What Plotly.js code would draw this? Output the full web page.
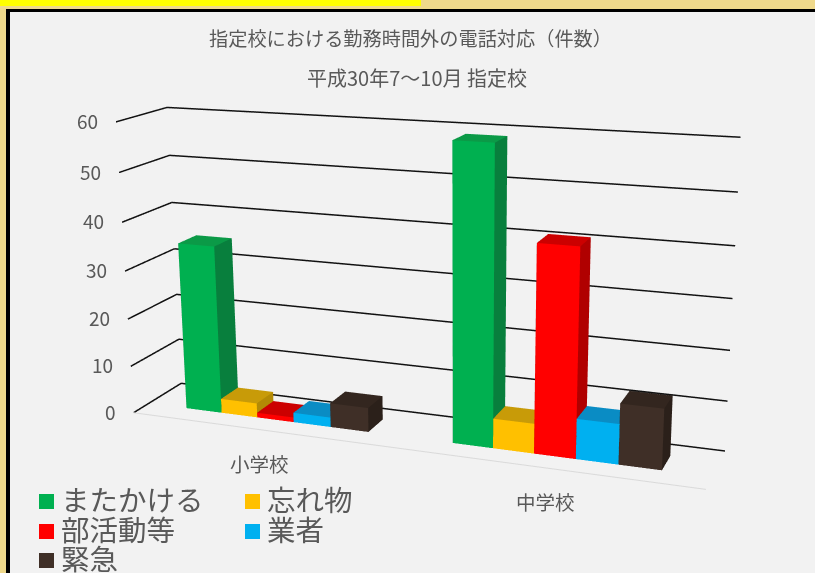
<!DOCTYPE html>
<html><head><meta charset="utf-8">
<script src="https://cdn.plot.ly/plotly-3.0.1.min.js"></script>
<style>html,body{margin:0;padding:0;overflow:hidden;background:#F2F2F2;width:815px;height:573px}
#c{position:absolute;left:0;top:-340px;width:815px;height:1254px}</style>
</head><body><div id="c"></div>
<script>
const categories=['小学校','中学校'];
const seriesNames=['またかける','忘れ物','部活動等','業者','緊急'];
const mataKakeru=[35,59];
const wasuremono=[3,6];
const bukatsudo=[1,41];
const gyosha=[2,8];
const kinkyu=[5,12];
const yTicks=[0,10,20,30,40,50,60];
const mainTitle='指定校における勤務時間外の電話対応（件数）';
const subTitle='平成30年7～10月 指定校';
const seriesValues=[mataKakeru,wasuremono,bukatsudo,gyosha,kinkyu];
// front, top, side face colours per series
const faceColors=[['#00B050','#0B9A47','#087F3D'],['#FFC000','#C89B08','#B38A05'],['#FF0000','#CC0000','#B00000'],['#00B0F0','#0A8CC4','#0A84B5'],['#3F2F27','#33261F','#2B201A']];

// The plot is taller than the page so that the scene's fixed field of view gives a shallow perspective.
const W=815,PH=1254,OFFSET=340;
const X=px=>px/W, Y=py=>1-(py+OFFSET)/PH;
const groupStart=[0.076,0.574],barW=0.0695,depth=[0.31,0.69];

function bars(vals,s,cols){
  const x=[],y=[],z=[],i=[],j=[],k=[],fc=[];
  vals.forEach((v,g)=>{
    const a=groupStart[g]+s*barW,b=a+barW,n=x.length;
    [[a,depth[0],0],[b,depth[0],0],[b,depth[1],0],[a,depth[1],0],[a,depth[0],v],[b,depth[0],v],[b,depth[1],v],[a,depth[1],v]].forEach(p=>{x.push(p[0]);y.push(p[1]);z.push(p[2]);});
    const quads=[[0,1,5,4,0],[4,5,6,7,1],[1,2,6,5,2],[3,0,4,7,2],[2,3,7,6,2]];
    quads.forEach(q=>{i.push(n+q[0],n+q[0]);j.push(n+q[1],n+q[2]);k.push(n+q[2],n+q[3]);fc.push(cols[q[4]],cols[q[4]]);});
  });
  return {type:'mesh3d',x,y,z,i,j,k,facecolor:fc,flatshading:true,hoverinfo:'skip',showscale:false,name:seriesNames[s],
    lighting:{ambient:1,diffuse:0,specular:0,roughness:1,fresnel:0}};
}
const grid=yTicks.map(t=>({type:'scatter3d',mode:'lines',x:[0,0,1],y:[0,1,1],z:[t,t,t],line:{color:'#111',width:3},hoverinfo:'skip',showlegend:false}));
const floorEdge={type:'scatter3d',mode:'lines',x:[0,1],y:[0,0],z:[0,0],line:{color:'#D9D9D9',width:2},hoverinfo:'skip',showlegend:false};
const traces=[...grid,floorEdge,...seriesValues.map((v,s)=>bars(v,s,faceColors[s]))];

const font={family:'"Noto Sans CJK JP","Noto Sans",sans-serif',color:'#595959'};
const rect=(x0,y0,x1,y1,c)=>({type:'rect',xref:'paper',yref:'paper',x0:X(x0),x1:X(x1),y0:Y(y0),y1:Y(y1),fillcolor:c,line:{width:0},layer:'below'});
const shapes=[rect(0,0,6,573,'#EFD98B'),rect(0,0,815,9,'#EFD98B'),rect(0,0,421,6,'#FFFF00'),rect(6,9,815,12,'#000'),rect(6,9,10,573,'#000')];
const legendPos=[[39,494],[245,494],[39,524],[245,524],[39,553]];
const annotations=[{xref:'paper',yref:'paper',x:X(416.5),y:Y(78),text:subTitle,showarrow:false,xanchor:'center',yanchor:'middle',font:{...font,size:20}}];
seriesNames.forEach((n,s)=>{
  const [lx,ly]=legendPos[s];
  shapes.push(rect(lx,ly,lx+15,ly+15,faceColors[s][0]));
  annotations.push({xref:'paper',yref:'paper',x:X(lx+20),y:Y(ly+4),text:n,showarrow:false,xanchor:'left',yanchor:'middle',font:{...font,size:28.5}});
});
const sceneAnn=[...yTicks.map(t=>({x:0,y:0,z:t,text:String(t),showarrow:false,xanchor:'right',yanchor:'middle',xshift:-16,yshift:1.5,font:{...font,size:19}})),
  ...categories.map((c,g)=>({x:0.25+g*0.5,y:0,z:0,text:c,showarrow:false,xanchor:'center',yanchor:'middle',xshift:-2,yshift:-33.5,font:{...font,size:19.5}}))];

const layout={width:W,height:PH,margin:{l:0,r:0,t:0,b:0},paper_bgcolor:'#F2F2F2',showlegend:false,shapes,annotations,
  title:{text:mainTitle,font:{...font,size:19.2},x:X(410.5),xanchor:'center',y:Y(39),yanchor:'middle',yref:'paper'},
  scene:{domain:{x:[0,1],y:[0,1]},bgcolor:'rgba(0,0,0,0)',aspectmode:'manual',aspectratio:{x:2.030,y:0.341,z:1.040},
    camera:{eye:{x:1.741,y:-4.537,z:1.321},center:{x:0.480,y:-1.311,z:0.373},up:{x:-0.134,y:0.371,z:1},projection:{type:'perspective'}},
    xaxis:{visible:false,range:[0,1],autorange:false},yaxis:{visible:false,range:[0,1],autorange:false},zaxis:{visible:false,range:[0,60],autorange:false},annotations:sceneAnn}};
Plotly.newPlot('c',traces,layout,{displayModeBar:false});
</script></body></html>
